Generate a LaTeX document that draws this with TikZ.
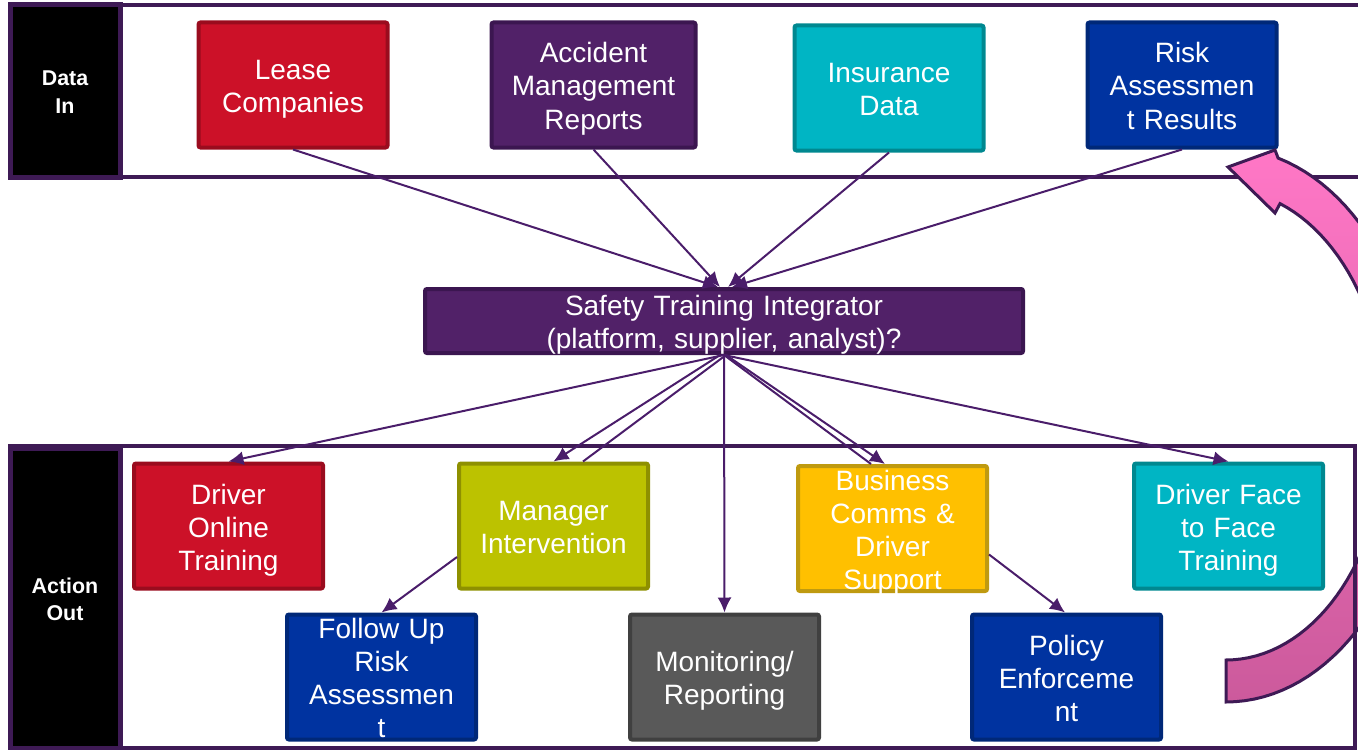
\documentclass[tikz,border=0pt]{standalone}
\usepackage{fontspec}
\setmainfont{Liberation Sans}
\usetikzlibrary{arrows.meta}
\definecolor{framec}{HTML}{3E1A55}
\definecolor{linkc}{HTML}{4A1D6A}
\definecolor{redf}{HTML}{CC1128}\definecolor{redd}{HTML}{9A0C1E}
\definecolor{purf}{HTML}{512168}\definecolor{purd}{HTML}{3B1650}
\definecolor{tealf}{HTML}{00B5C4}\definecolor{teald}{HTML}{008890}
\definecolor{bluef}{HTML}{0033A0}\definecolor{blued}{HTML}{002878}
\definecolor{olivef}{HTML}{BCC200}\definecolor{olived}{HTML}{8E9000}
\definecolor{yellf}{HTML}{FFC000}\definecolor{yelld}{HTML}{BF9A10}
\definecolor{greyf}{HTML}{595959}\definecolor{greyd}{HTML}{404040}
\definecolor{pinktop}{HTML}{FF77C6}\definecolor{pinkbot}{HTML}{CC5A9C}
\newcommand\topstrut[1]{\rule{0pt}{#1}}
\newcommand\botstrut{\rule[-3.5pt]{0pt}{0pt}}
\tikzset{
  box/.style={draw=#1d, fill=#1f, line width=2pt, rounded corners=1pt,
    text=white, align=center, inner xsep=0pt, inner ysep=-6pt, text width=92pt,
    minimum width=94.5pt, minimum height=62.5pt,
    font=\fontsize{14}{16.5}\selectfont,
    execute at begin node=\topstrut{14.5pt}, execute at end node=\botstrut},
  tag/.style={draw=framec, fill=black, line width=2.5pt, text=white,
    align=center, inner sep=0pt, text width=50pt, minimum width=55pt,
    font=\fontsize{10.7}{13.5}\selectfont\bfseries,
    execute at begin node=\topstrut{12pt}, execute at end node=\botstrut},
  band/.style={draw=framec, line width=2pt},
  link/.style={draw=linkc, line width=1pt, -{Latex[length=7.5pt,width=7pt]}},
  plain/.style={draw=linkc, line width=1pt}
}
\begin{document}
\begin{tikzpicture}[x=0.5pt,y=-0.5pt]
\useasboundingbox (0,0) rectangle (1358,749);
\clip (0,0) rectangle (1358,749);
\draw[band] (10,5) rectangle (1380,177);
\node[tag,minimum height=86pt] (datain) at (65,91) {Data\\In};
\node[box=red] (lease) at (293,85) {Lease\\Companies};
\node[box=pur,minimum width=102pt] (accident) at (593.5,85) {Accident\\Management\\Reports};
\node[box=teal] (insurance) at (889,88) {Insurance\\Data};
\node[box=blue] (risk) at (1182,85) {Risk\\Assessmen\\t Results};
\node[box=pur,text width=290pt,minimum width=299pt,minimum height=32pt] (integ) at (724,321)
  {Safety Training Integrator\\(platform, supplier, analyst)?};
\draw[link] (lease.south) -- ([xshift=-3pt]integ.north);
\draw[link] (accident.south) -- ([xshift=-2pt]integ.north);
\draw[link] (insurance.south) -- ([xshift=2pt]integ.north);
\draw[link] (risk.south) -- ([xshift=4pt]integ.north);
% pink loop back to the inputs
\draw[draw=framec, line width=1.5pt, line join=miter, top color=pinktop, bottom color=pinkbot]
  plot[domain=90:-74.5,samples=60] ({1226+195*cos(\x)},{425+277*sin(\x)})
  -- (1275,150) -- (1228,167) -- (1275,213)
  -- plot[domain=-70.4:90,samples=60] ({1226+161*cos(\x)},{425+235*sin(\x)}) -- cycle;
\draw[band] (10,446) rectangle (1355,748);
\node[tag,minimum height=150pt] (actionout) at (65,598) {Action\\Out};
\node[box=red] (online) at (228.5,526) {Driver\\Online\\Training};
\node[box=olive] (manager) at (553.5,526) {Manager\\Intervention};
\node[box=yell] (comms) at (892.5,528.5) {Business\\Comms \&\\Driver\\Support};
\node[box=teal] (face) at (1228.5,526) {Driver Face\\to Face\\Training};
\node[box=blue] (followup) at (381.5,677) {Follow Up\\Risk\\Assessmen\\t};
\node[box=grey] (monitor) at (724.5,677) {Monitoring/\\Reporting};
\node[box=blue] (policy) at (1066.5,677) {Policy\\Enforceme\\nt};
\draw[link] (integ.south) -- (online.north);
\draw[link] ([xshift=-2pt]integ.south) -- (manager.north);
\draw[plain] ([xshift=1pt]integ.south) -- ([xshift=14.75pt]manager.north);
\draw[link] (integ.south) -- (monitor.north);
\draw[plain] (integ.south) -- ([xshift=-10.75pt]comms.north);
\draw[link] ([xshift=1pt]integ.south) -- ([xshift=-3.75pt]comms.north);
\draw[link] (integ.south) -- (face.north);
\draw[link] ([yshift=-15.5pt]manager.west) -- (followup.north);
\draw[link] ([yshift=-13pt]comms.east) -- ([xshift=-0.75pt]policy.north);
\end{tikzpicture}
\end{document}
